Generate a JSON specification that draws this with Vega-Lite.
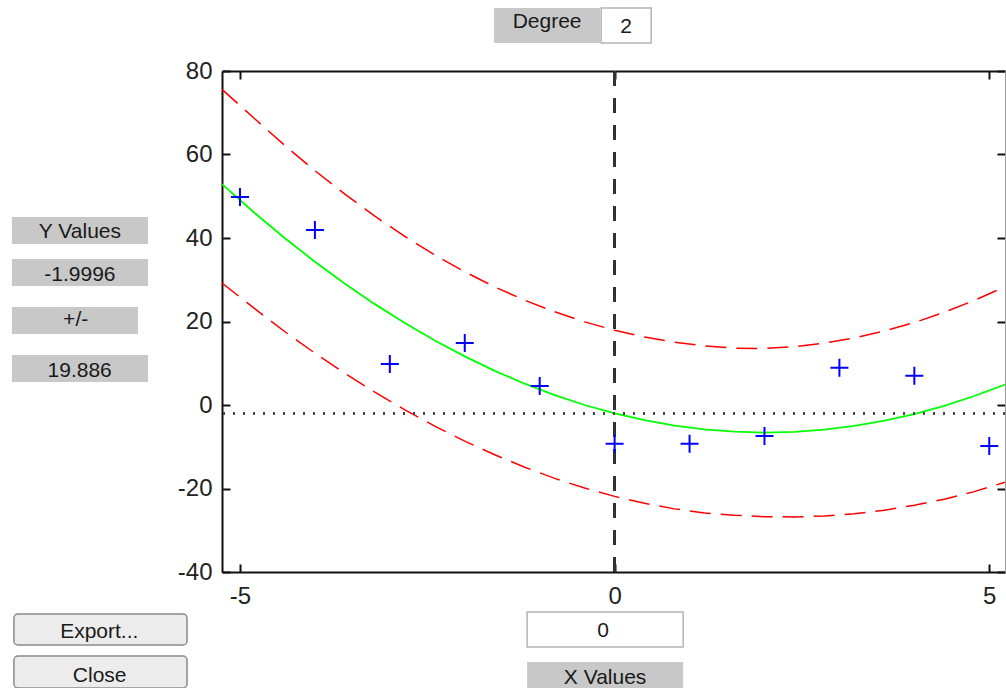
{
  "$schema": "https://vega.github.io/schema/vega-lite/v6.json",
  "width": 783,
  "height": 501,
  "autosize": {"type": "none"},
  "padding": {"left": 222, "top": 71, "right": 1, "bottom": 116},
  "background": "white",
  "config": {"view": {"stroke": null}, "font": "Liberation Sans"},
  "datasets": {
    "obs": [
      {"x": -5, "y": 49.8}, {"x": -4, "y": 41.9}, {"x": -3, "y": 9.8}, {"x": -2, "y": 14.85},
      {"x": -1, "y": 4.55}, {"x": 0, "y": -9.3}, {"x": 1, "y": -9.3}, {"x": 2, "y": -7.4},
      {"x": 3, "y": 8.9}, {"x": 4, "y": 7.0}, {"x": 5, "y": -9.8}
    ],
    "curve": [
      {"x": -5.24, "fit": 52.92, "upper": 75.6, "lower": 29.2},
      {"x": -4.8, "fit": 45.92, "upper": 68.5, "lower": 23.02},
      {"x": -4.4, "fit": 39.94, "upper": 62.14, "lower": 17.54},
      {"x": -4.0, "fit": 34.32, "upper": 56.12, "lower": 12.42},
      {"x": -3.6, "fit": 29.06, "upper": 50.5, "lower": 7.56},
      {"x": -3.2, "fit": 24.16, "upper": 45.22, "lower": 3.06},
      {"x": -2.8, "fit": 19.63, "upper": 40.4, "lower": -1.17},
      {"x": -2.4, "fit": 15.45, "upper": 35.93, "lower": -5.05},
      {"x": -2.0, "fit": 11.64, "upper": 31.92, "lower": -8.66},
      {"x": -1.6, "fit": 8.19, "upper": 28.28, "lower": -11.91},
      {"x": -1.2, "fit": 5.1, "upper": 25.1, "lower": -14.9},
      {"x": -0.8, "fit": 2.37, "upper": 22.32, "lower": -17.58},
      {"x": -0.4, "fit": 0.0, "upper": 19.91, "lower": -19.9},
      {"x": 0, "fit": -2.0, "upper": 17.89, "lower": -21.89},
      {"x": 0.4, "fit": -3.64, "upper": 16.26, "lower": -23.54},
      {"x": 0.8, "fit": -4.93, "upper": 15.02, "lower": -24.88},
      {"x": 1.2, "fit": -5.85, "upper": 14.15, "lower": -25.85},
      {"x": 1.6, "fit": -6.4, "upper": 13.6, "lower": -26.4},
      {"x": 2.0, "fit": -6.6, "upper": 13.55, "lower": -26.75},
      {"x": 2.4, "fit": -6.44, "upper": 13.95, "lower": -26.8},
      {"x": 2.8, "fit": -5.91, "upper": 14.85, "lower": -26.6},
      {"x": 3.2, "fit": -5.02, "upper": 16.08, "lower": -26.05},
      {"x": 3.6, "fit": -3.77, "upper": 17.73, "lower": -25.2},
      {"x": 4.0, "fit": -2.16, "upper": 19.74, "lower": -24.0},
      {"x": 4.4, "fit": -0.19, "upper": 22.21, "lower": -22.59},
      {"x": 4.8, "fit": 2.15, "upper": 25.05, "lower": -20.75},
      {"x": 5.21, "fit": 4.91, "upper": 28.31, "lower": -18.49}
    ],
    "ui": [
      {"kind": "label", "x": -1.609, "x2": -0.193, "y": 95.09, "y2": 86.71, "text": "Degree", "tx": -0.901, "ty": 90.3},
      {"kind": "input", "x": -0.18, "x2": 0.488, "y": 95.09, "y2": 86.71, "text": "2", "tx": 0.154, "ty": 89.1},
      {"kind": "label", "x": -8.044, "x2": -6.228, "y": 45.03, "y2": 38.56, "text": "Y Values", "tx": -7.136, "ty": 40.0},
      {"kind": "label", "x": -8.044, "x2": -6.228, "y": 34.97, "y2": 28.5, "text": "-1.9996", "tx": -7.136, "ty": 29.7},
      {"kind": "label", "x": -8.044, "x2": -6.361, "y": 23.47, "y2": 17.01, "text": "+/-", "tx": -7.193, "ty": 18.92},
      {"kind": "label", "x": -8.044, "x2": -6.228, "y": 11.98, "y2": 5.51, "text": "19.886", "tx": -7.14, "ty": 6.71},
      {"kind": "button", "x": -8.017, "x2": -5.707, "y": -50.06, "y2": -57.48, "text": "Export...", "tx": -6.878, "ty": -55.8},
      {"kind": "button", "x": -8.017, "x2": -5.707, "y": -60.12, "y2": -67.78, "text": "Close", "tx": -6.873, "ty": -66.35},
      {"kind": "input", "x": -1.168, "x2": 0.915, "y": -49.58, "y2": -57.96, "text": "0", "tx": -0.153, "ty": -55.57},
      {"kind": "label", "x": -1.168, "x2": 0.915, "y": -61.56, "y2": -68.74, "text": "X Values", "tx": -0.127, "ty": -66.83}
    ]
  },
  "layer": [
    {
      "data": {"name": "ui"},
      "transform": [{"filter": "datum.kind == 'label'"}],
      "mark": {"type": "rect", "fill": "#c8c8c8", "clip": false},
      "encoding": {
        "x": {"field": "x", "type": "quantitative", "scale": {"domain": [-5.24, 5.21], "nice": false, "zero": false}, "axis": null},
        "x2": {"field": "x2"},
        "y": {"field": "y", "type": "quantitative", "scale": {"domain": [-40, 80], "nice": false, "zero": false}, "axis": null},
        "y2": {"field": "y2"}
      }
    },
    {
      "data": {"name": "ui"},
      "transform": [{"filter": "datum.kind == 'input'"}],
      "mark": {"type": "rect", "fill": "white", "stroke": "#b4b4b4", "strokeWidth": 1.5, "clip": false},
      "encoding": {
        "x": {"field": "x", "type": "quantitative", "scale": {"domain": [-5.24, 5.21], "nice": false, "zero": false}, "axis": null},
        "x2": {"field": "x2"},
        "y": {"field": "y", "type": "quantitative", "scale": {"domain": [-40, 80], "nice": false, "zero": false}, "axis": null},
        "y2": {"field": "y2"}
      }
    },
    {
      "data": {"name": "ui"},
      "transform": [{"filter": "datum.kind == 'button'"}],
      "mark": {"type": "rect", "fill": "#ececec", "stroke": "#8a8a8a", "strokeWidth": 1.5, "cornerRadius": 4, "clip": false},
      "encoding": {
        "x": {"field": "x", "type": "quantitative", "scale": {"domain": [-5.24, 5.21], "nice": false, "zero": false}, "axis": null},
        "x2": {"field": "x2"},
        "y": {"field": "y", "type": "quantitative", "scale": {"domain": [-40, 80], "nice": false, "zero": false}, "axis": null},
        "y2": {"field": "y2"}
      }
    },
    {
      "data": {"name": "ui"},
      "mark": {"type": "text", "align": "center", "baseline": "alphabetic", "fontSize": 21, "font": "Liberation Sans", "color": "#1a1a1a", "clip": false},
      "encoding": {
        "x": {"field": "tx", "type": "quantitative", "scale": {"domain": [-5.24, 5.21], "nice": false, "zero": false}, "axis": null},
        "y": {"field": "ty", "type": "quantitative", "scale": {"domain": [-40, 80], "nice": false, "zero": false}, "axis": null},
        "text": {"field": "text"}
      }
    },
    {
      "data": {"name": "curve"},
      "mark": {"type": "line", "color": "#ff0000", "strokeWidth": 1.5, "strokeDash": [21, 10], "clip": true},
      "encoding": {
        "x": {"field": "x", "type": "quantitative", "scale": {"domain": [-5.24, 5.21], "nice": false, "zero": false}, "axis": null},
        "y": {"field": "upper", "type": "quantitative", "scale": {"domain": [-40, 80], "nice": false, "zero": false}, "axis": null}
      }
    },
    {
      "data": {"name": "curve"},
      "mark": {"type": "line", "color": "#ff0000", "strokeWidth": 1.5, "strokeDash": [21, 10], "clip": true},
      "encoding": {
        "x": {"field": "x", "type": "quantitative", "scale": {"domain": [-5.24, 5.21], "nice": false, "zero": false}, "axis": null},
        "y": {"field": "lower", "type": "quantitative", "scale": {"domain": [-40, 80], "nice": false, "zero": false}, "axis": null}
      }
    },
    {
      "data": {"name": "curve"},
      "mark": {"type": "line", "color": "#00ff00", "strokeWidth": 1.8, "clip": true},
      "encoding": {
        "x": {"field": "x", "type": "quantitative", "scale": {"domain": [-5.24, 5.21], "nice": false, "zero": false},
          "axis": {"orient": "top", "values": [-5, 0, 5], "labels": false, "title": null, "grid": false, "tickSize": -8, "tickWidth": 2, "tickColor": "#111", "domainColor": "#111", "domainWidth": 2}},
        "y": {"field": "fit", "type": "quantitative", "scale": {"domain": [-40, 80], "nice": false, "zero": false},
          "axis": {"orient": "right", "values": [-40, -20, 0, 20, 40, 60, 80], "labels": false, "title": null, "grid": false, "tickSize": -8, "tickWidth": 2, "tickColor": "#111", "domainColor": "#9a9a9a", "domainWidth": 1}}
      }
    },
    {
      "data": {"name": "obs"},
      "mark": {"type": "rule", "color": "#333333", "strokeWidth": 2, "strokeDash": [15, 12]},
      "encoding": {
        "x": {"datum": 0, "type": "quantitative", "scale": {"domain": [-5.24, 5.21], "nice": false, "zero": false}, "axis": null}
      }
    },
    {
      "data": {"name": "obs"},
      "mark": {"type": "rule", "color": "#444444", "strokeWidth": 2, "strokeDash": [2, 8]},
      "encoding": {
        "y": {"datum": -1.9996, "type": "quantitative", "scale": {"domain": [-40, 80], "nice": false, "zero": false}, "axis": null}
      }
    },
    {
      "data": {"name": "obs"},
      "mark": {"type": "point", "shape": "M-1,0L1,0M0,-1L0,1", "size": 324, "filled": false, "stroke": "#0000ff", "strokeWidth": 2, "opacity": 1},
      "encoding": {
        "x": {"field": "x", "type": "quantitative", "scale": {"domain": [-5.24, 5.21], "nice": false, "zero": false},
          "axis": {"orient": "bottom", "values": [-5, 0, 5], "labelExpr": "'' + datum.value", "title": null, "grid": false, "tickSize": -8, "tickWidth": 2, "tickColor": "#111", "domainColor": "#111", "domainWidth": 2, "labelFont": "Liberation Sans", "labelFontSize": 24, "labelColor": "#222", "labelPadding": 20, "labelFlush": false}},
        "y": {"field": "y", "type": "quantitative", "scale": {"domain": [-40, 80], "nice": false, "zero": false},
          "axis": {"orient": "left", "values": [-40, -20, 0, 20, 40, 60, 80], "labelExpr": "'' + datum.value", "title": null, "grid": false, "tickSize": -8, "tickWidth": 2, "tickColor": "#111", "domainColor": "#111", "domainWidth": 2, "labelFont": "Liberation Sans", "labelFontSize": 24, "labelColor": "#222", "labelPadding": 18, "labelFlush": false}}
      }
    }
  ],
  "resolve": {"axis": {"x": "independent", "y": "independent"}}
}
